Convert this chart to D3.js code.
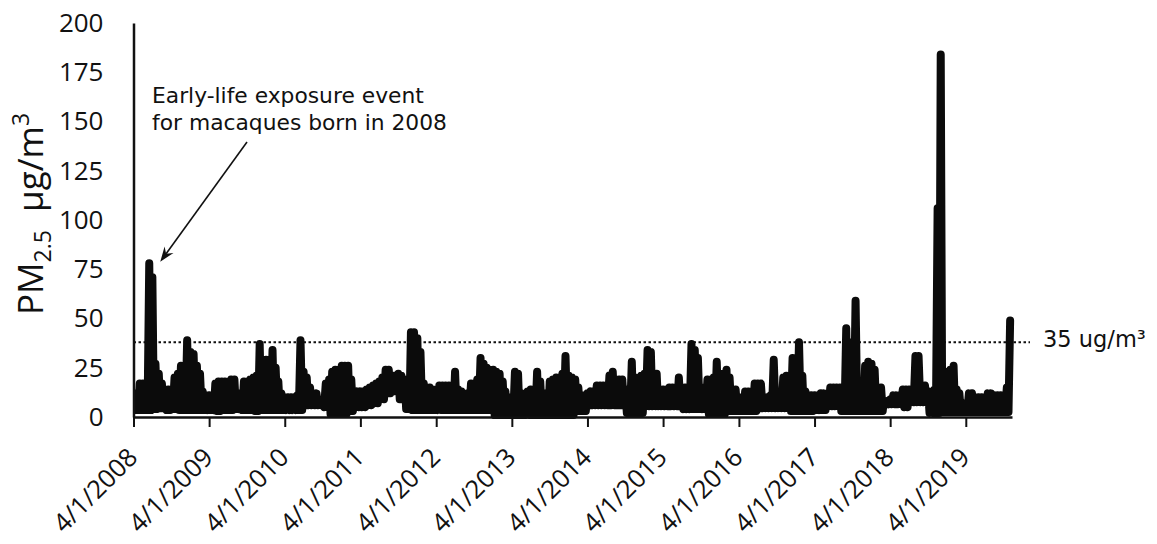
<!DOCTYPE html>
<html><head><meta charset="utf-8">
<script src="https://cdn.jsdelivr.net/npm/d3@7"></script>
<style>
html,body{margin:0;padding:0;background:#fff;}
svg{display:block;}
</style></head><body>
<svg id="chart" width="1157" height="544"></svg>
<script>
// ---------------- DATA ----------------
// Semi-monthly peak PM2.5 (samples on the 1st and 16th of each month, starting 4/1/2008)
const highs = [
  11,12,17,17,16,78,71,27,22,17,14,14,14,20,22,26,26,39,33,32,26,22,13,11,
  11,11,17,18,18,18,17,19,19,11,12,18,18,19,20,21,37,29,29,27,34,25,18,12,
  10,10,10,10,11,39,23,20,15,12,12,8,8,17,19,23,24,24,26,26,26,19,12,13,
  13,13,14,15,16,17,18,20,24,24,19,21,22,21,19,19,43,43,40,33,17,15,15,14,
  10,16,16,16,16,16,23,14,13,12,12,17,17,19,30,27,25,24,24,23,22,18,13,10,
  10,23,22,12,8,13,14,14,23,18,12,8,18,19,20,20,22,31,21,20,19,15,10,11,
  12,13,13,16,16,16,14,21,23,19,19,19,13,14,28,20,19,21,22,34,33,22,22,11,
  14,14,15,15,15,20,15,15,15,37,34,30,15,15,19,19,20,28,22,18,24,20,14,14,
  10,10,13,13,13,17,17,17,10,10,11,29,11,12,20,21,21,30,30,38,21,13,11,11,
  11,11,12,12,11,15,15,15,15,15,45,38,38,59,17,17,26,28,27,24,15,15,8,8,
  9,11,11,11,14,14,14,14,31,31,16,16,13,13,14,106,184,23,23,24,26,14,12,7,
  7,12,12,10,10,10,10,12,12,11,11,11,11,15,49
];
// Monthly baseline (low) PM2.5, one value per month starting April 2008
const lows = [
  3.5,3.5,3.5,4,4.5,3.5,4,3.5,3.5,3.5,3.5,3.5,
  3.5,3,3.5,3.5,4,3.5,3.5,3,3.5,3.5,3.5,3.5,
  3.5,3.5,3.5,6,6,6,5,1.5,1.5,1.5,3,5,
  5,6,7,9,12,13,9,4,3.5,3.5,3.5,3.5,
  3.5,3.5,3.5,3.5,3.5,3.5,3.5,3.5,3.5,1,1,1,
  1,1,1,1,1,1,1,1,1,1,3,3,
  6,6,6,6,6,6,2,2,2,5.5,5.5,5.5,
  5.5,5.5,5.5,4,4,4,4,1.5,1.5,1.5,3,3,
  3,3,3,4.5,4.5,4.5,4.5,4.5,3,3,3,3,
  3.5,3.5,5.5,5.5,3,3,3,3,3,3,3,6.5,
  6.5,6.5,5,7.5,7.5,7.5,2,2,2.5,2.5,2.5,2.5,
  2.5,2.5,2.5,2.5,2.5,2.5,2.5,2.5
];
const yTicks = [0,25,50,75,100,125,150,175,200];
const xTickLabels = ["4/1/2008","4/1/2009","4/1/2010","4/1/2011","4/1/2012","4/1/2013",
  "4/1/2014","4/1/2015","4/1/2016","4/1/2017","4/1/2018","4/1/2019"];
const thresholdValue = 38;           // drawn level of the reference line
const thresholdLabel = "35 ug/m³";
const annotationLines = ["Early-life exposure event","for macaques born in 2008"];
const peakIndex = 5;                  // sample the annotation arrow points to

// ---------------- BUILD ----------------
const parse = d3.timeParse("%m/%d/%Y");
const sampleDate = k => new Date(2008, 3 + Math.floor(k/2), k % 2 ? 16 : 1);
const lowDate = k => new Date(2008, 3 + Math.floor(k/2), k % 2 ? 24 : 8);

const series = [];
highs.forEach((v, k) => {
  series.push({date: sampleDate(k), v: v});
  if (k < highs.length - 1) series.push({date: lowDate(k), v: lows[Math.floor(k/2)]});
});

const svg = d3.select("#chart");
const x0 = 133.5, xEnd = 1012, yBottom = 417, yTop = 23;
const x = d3.scaleTime()
  .domain([new Date(2008,3,1), new Date(2019,10,10)])
  .range([x0, xEnd]);
const y = d3.scaleLinear().domain([0,200]).range([yBottom, yTop]);

// clip
svg.append("defs").append("clipPath").attr("id","clip")
  .append("rect").attr("x", x0 + 0.5).attr("y", 0).attr("width", 1157).attr("height", 440);

// threshold dotted line
svg.append("line")
  .attr("x1", x0).attr("x2", 1030)
  .attr("y1", y(thresholdValue)).attr("y2", y(thresholdValue))
  .attr("stroke", "#111").attr("stroke-width", 2)
  .attr("stroke-dasharray", "2.5,2.5");

// data line
const line = d3.line().x(d => x(d.date)).y(d => y(d.v));
svg.append("path")
  .datum(series)
  .attr("clip-path", "url(#clip)")
  .attr("d", line)
  .attr("fill", "none")
  .attr("stroke", "#0b0b0b")
  .attr("stroke-width", 8)
  .attr("stroke-linejoin", "round")
  .attr("stroke-linecap", "round");

// x axis
const xAxis = d3.axisBottom(x)
  .tickValues(xTickLabels.map(parse))
  .tickSizeInner(10).tickSizeOuter(0)
  .tickFormat((d, i) => xTickLabels[i]);
const gx = svg.append("g").attr("transform", `translate(0,${yBottom})`).call(xAxis);
gx.select(".domain").attr("stroke", "#111").attr("stroke-width", 2.5);
gx.selectAll(".tick line").attr("stroke", "#111").attr("stroke-width", 2);
gx.selectAll(".tick text")
  .attr("x", 0).attr("y", 0).attr("dy", 0)
  .attr("text-anchor", "end")
  .attr("transform", "translate(5,42) rotate(-45)")
  .attr("font-family", "'Open Sans', sans-serif")
  .attr("font-size", 25.5).attr("fill", "#111");

// y axis
const yAxis = d3.axisLeft(y).tickValues(yTicks).tickSize(0).tickPadding(30);
const gy = svg.append("g").attr("transform", `translate(${x0},0)`).call(yAxis);
gy.select(".domain").attr("stroke", "#111").attr("stroke-width", 2.5);
gy.selectAll(".tick text")
  .attr("font-family", "'Open Sans', sans-serif")
  .attr("font-size", 26).attr("fill", "#111");

// y title
const yt = svg.append("text")
  .attr("transform", "translate(43,214) rotate(-90)")
  .attr("text-anchor", "middle")
  .attr("font-family", "'Open Sans', sans-serif")
  .attr("font-size", 35).attr("fill", "#111");
yt.append("tspan").text("PM");
yt.append("tspan").attr("dy", 8).attr("font-size", 23).text("2.5");
yt.append("tspan").attr("dy", -8).text("\u00a0 µg/m");
yt.append("tspan").attr("dy", -14).attr("font-size", 23).text("3");

// threshold label
svg.append("text")
  .attr("x", 1043).attr("y", y(thresholdValue) + 5)
  .attr("font-family", "'DejaVu Sans', Verdana, sans-serif")
  .attr("font-size", 22.5).attr("fill", "#111")
  .text(thresholdLabel);

// annotation
const annX = 152, annY = 103, annDy = 27;
svg.append("g").selectAll("text").data(annotationLines).join("text")
  .attr("x", annX).attr("y", (d, i) => annY + i * annDy)
  .attr("font-family", "'DejaVu Sans', Verdana, sans-serif")
  .attr("font-size", 21.8).attr("fill", "#111")
  .text(d => d);

// arrow
const tip = [x(sampleDate(peakIndex)) + 11, y(highs[peakIndex]) - 1.5];
const tail = [annX + 95, annY + annDy + 12];
const dx = tip[0] - tail[0], dy = tip[1] - tail[1];
const len = Math.hypot(dx, dy);
const ux = dx / len, uy = dy / len, px = -uy, py = ux;
const hl = 15, hw = 5.5, notch = 10;
svg.append("line")
  .attr("x1", tail[0]).attr("y1", tail[1])
  .attr("x2", tip[0] - ux * notch).attr("y2", tip[1] - uy * notch)
  .attr("stroke", "#111").attr("stroke-width", 1.6);
svg.append("path")
  .attr("d", `M${tip[0]},${tip[1]}
    L${tip[0] - ux*hl + px*hw},${tip[1] - uy*hl + py*hw}
    L${tip[0] - ux*notch},${tip[1] - uy*notch}
    L${tip[0] - ux*hl - px*hw},${tip[1] - uy*hl - py*hw}Z`)
  .attr("fill", "#111");
</script>
</body></html>
